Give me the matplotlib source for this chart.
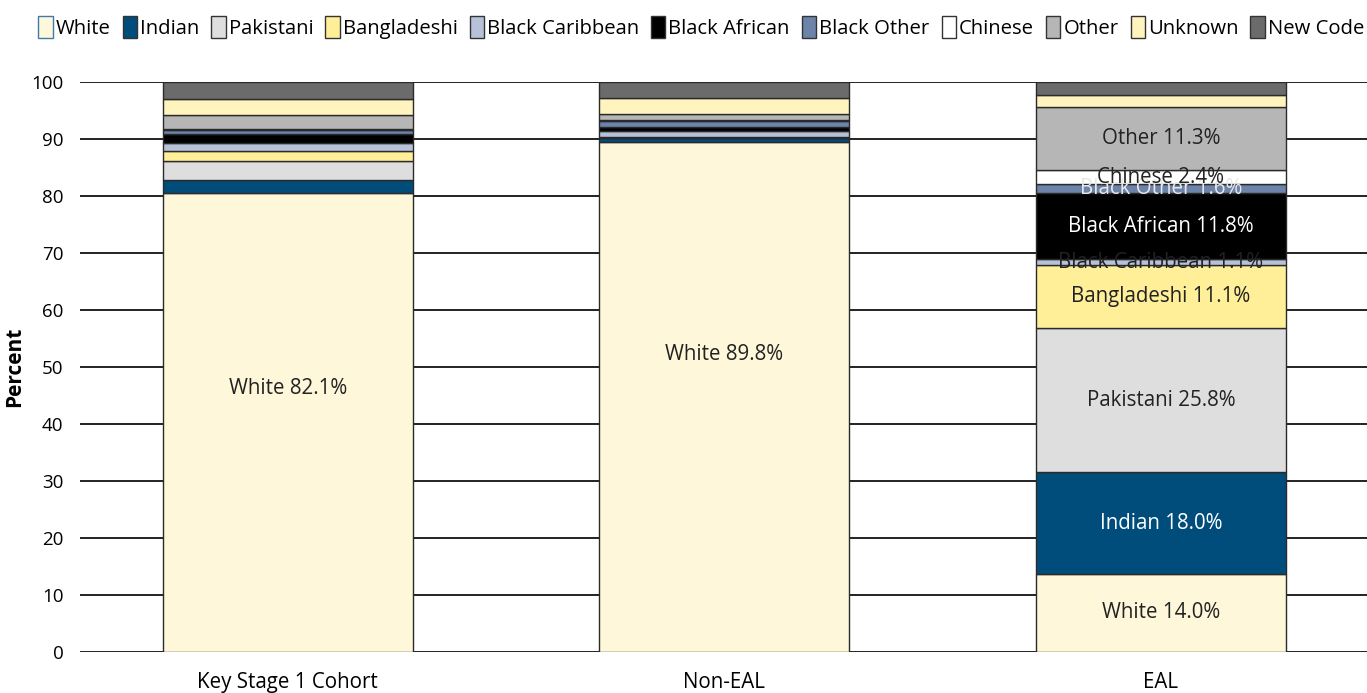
import numpy as np
import matplotlib.pyplot as plt
from matplotlib.patches import Patch

plt.rcParams['font.family'] = ['Open Sans', 'DejaVu Sans']

groups = ["Key Stage 1 Cohort", "Non-EAL", "EAL"]
names = ["White", "Indian", "Pakistani", "Bangladeshi", "Black Caribbean",
         "Black African", "Black Other", "Chinese", "Other", "Unknown", "New Code"]

# raw percentages per group (Excel 100%-stacked, so they get rescaled)
white = [82.1, 89.8, 14.0]
indian = [2.5, 0.7, 18.0]
pakistani = [3.4, 0.1, 25.8]
bangladeshi = [1.7, 0.1, 11.1]
black_caribbean = [1.5, 1.1, 1.1]
black_african = [1.6, 0.6, 11.8]
black_other = [0.6, 1.1, 1.6]
chinese = [0.2, 0.1, 2.4]
other = [2.5, 1.1, 11.3]
unknown = [2.9, 2.8, 2.2]
new_code = [3.1, 2.9, 2.3]

series = [white, indian, pakistani, bangladeshi, black_caribbean, black_african,
          black_other, chinese, other, unknown, new_code]
colors = ["#FEF7DA", "#004D7C", "#DEDEDE", "#FFEF99", "#B7C1D7", "#000000",
          "#6C83AA", "#FFFFFF", "#B6B6B6", "#FFF3BE", "#6B6B6B"]
label_colors = ["#222222", "white", "#222222", "#222222", "#222222", "white",
                "#E8E8E8", "#222222", "#222222", "#222222", "#222222"]

# which segments carry a text label: (series index, group index)
labelled = [(0, 0), (0, 1)] + [(i, 2) for i in range(9)]
# the big White labels sit a bit above the segment middle in the original
label_shift = {(0, 0): 6.0, (0, 1): 7.5}

data = np.array(series, dtype=float)
totals = data.sum(axis=0)
pct = data / totals * 100

fig = plt.figure(figsize=(13.67, 6.93), dpi=100)
ax = fig.add_axes([0.0585, 0.059, 0.9415, 0.823])

x = np.arange(len(groups))
bottom = np.zeros(len(groups))
for i, name in enumerate(names):
    ax.bar(x, pct[i], 0.573, bottom=bottom, color=colors[i],
           edgecolor="#2a2a2a", linewidth=1.0, zorder=3)
    for (si, gi) in labelled:
        if si == i:
            ypos = bottom[gi] + pct[i][gi] / 2 + label_shift.get((si, gi), 0)
            ax.text(x[gi], ypos, f"{name} {data[i][gi]:.1f}%",
                    ha="center", va="center", fontsize=14.8,
                    color=label_colors[i], zorder=4)
    bottom += pct[i]

ax.set_ylim(0, 100)
ax.set_xlim(-0.476, 2.472)
ax.set_yticks(range(0, 101, 10))
ax.yaxis.grid(True, color="#111111", linewidth=1.3, zorder=0)
ax.set_axisbelow(True)
for s in ax.spines.values():
    s.set_visible(False)
ax.tick_params(axis="y", length=0, labelsize=13.5, pad=12)
ax.tick_params(axis="x", length=0, labelsize=14.8, pad=14)
ax.set_xticks(x)
ax.set_xticklabels(groups)
ax.set_ylabel("Percent", fontsize=15, fontweight="bold", labelpad=4)

handles = [Patch(facecolor=c, edgecolor="#333333", linewidth=1) for c in colors]
handles[0] = Patch(facecolor=colors[0], edgecolor="#3F7BA8", linewidth=1)
fig.legend(handles, names, loc="upper center", bbox_to_anchor=(0.513, 1.003),
           ncol=11, frameon=False, fontsize=14.6, handlelength=0.7,
           handleheight=1.3, handletextpad=0.15, columnspacing=0.6)

fig.savefig("out.png", dpi=100)
